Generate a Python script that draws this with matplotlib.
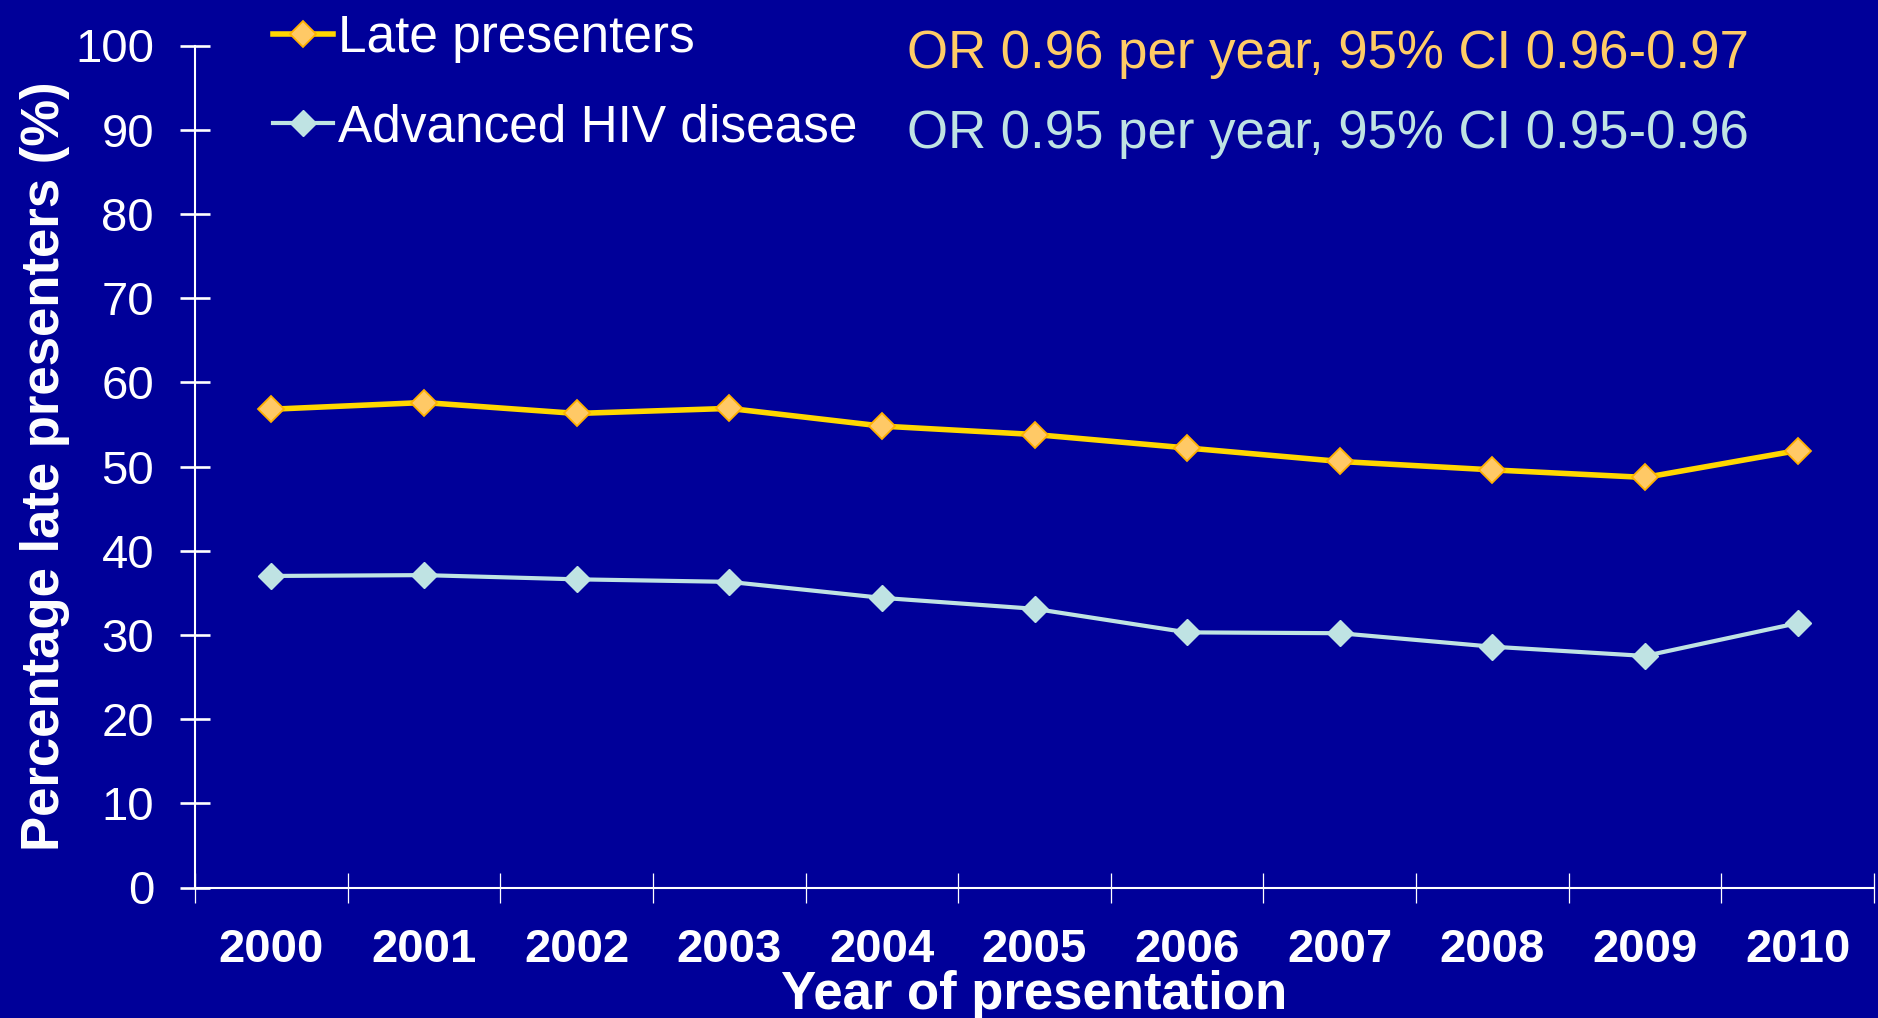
import matplotlib
matplotlib.use("Agg")
import matplotlib.pyplot as plt
import numpy as np

years = ["2000", "2001", "2002", "2003", "2004", "2005", "2006", "2007", "2008", "2009", "2010"]
late_presenters = [56.8, 57.6, 56.3, 56.9, 54.8, 53.8, 52.2, 50.6, 49.6, 48.7, 51.9]
advanced_hiv = [37.0, 37.1, 36.6, 36.3, 34.4, 33.1, 30.3, 30.2, 28.6, 27.5, 31.4]
series_labels = ["Late presenters", "Advanced HIV disease"]
or_texts = ["OR 0.96 per year, 95% CI 0.96-0.97", "OR 0.95 per year, 95% CI 0.95-0.96"]
y_ticks = [0, 10, 20, 30, 40, 50, 60, 70, 80, 90, 100]

BG = "#000099"
YEL_LINE = "#FFD700"
YEL_MARK = "#FFC966"
YEL_EDGE = "#FFB000"
CYAN = "#BFE3E3"
OR_YEL = "#FFCC66"

plt.rcParams["font.family"] = ["Liberation Sans", "DejaVu Sans"]

W, H = 1878, 1018
AX_L, AX_R, AX_B, AX_T = 195, 1874, 887.5, 45.5
fig = plt.figure(figsize=(W / 100, H / 100), dpi=100, facecolor=BG)
ax = fig.add_axes([AX_L / W, 1 - AX_B / H, (AX_R - AX_L) / W, (AX_B - AX_T) / H])
ax.set_facecolor(BG)

x = np.arange(len(years))
l1, = ax.plot(x, late_presenters, color=YEL_LINE, lw=4.0, marker="D", ms=13,
              mfc=YEL_MARK, mec=YEL_EDGE, mew=1.3, label=series_labels[0], zorder=3)
l2, = ax.plot(x, advanced_hiv, color=CYAN, lw=3.0, marker="D", ms=13,
              mfc=CYAN, mec=CYAN, mew=1.0, label=series_labels[1], zorder=3)

ax.set_xlim(-0.5, len(years) - 0.5)
ax.set_ylim(0, 100)

for s in ["top", "right"]:
    ax.spines[s].set_visible(False)
for s in ["left", "bottom"]:
    ax.spines[s].set_color("white")
    ax.spines[s].set_linewidth(1.5)

ax.set_yticks(y_ticks)
ax.set_yticklabels([str(v) for v in y_ticks])
ax.tick_params(axis="y", direction="inout", length=21, width=1.9, colors="white",
               labelsize=34, pad=19)

ax.set_xticks(np.arange(-0.5, len(years), 1.0))
ax.set_xticklabels([""] * (len(years) + 1))
ax.set_xticks(x, minor=True)
ax.set_xticklabels(years, minor=True, fontsize=34, fontweight="bold", color="white")
ax.tick_params(axis="x", which="major", direction="inout", length=21, width=0.9, colors="white")
ax.tick_params(axis="x", which="minor", length=0, pad=29, colors="white")

ax.set_xlabel("Year of presentation", fontsize=38, fontweight="bold", color="white")
ax.xaxis.label.set_va("baseline")
ax.xaxis.set_label_coords(0.5, (AX_B - 1009) / (AX_B - AX_T))
ax.set_ylabel("Percentage late presenters (%)", fontsize=38, fontweight="bold", color="white")
ax.yaxis.set_label_coords((70 - AX_L) / (AX_R - AX_L), 0.5)

leg = fig.legend(handles=[l1, l2], loc="upper left", bbox_to_anchor=(273 / W, 1 - 14 / H),
                 frameon=False, fontsize=37, handlelength=1.17, handletextpad=0.1,
                 borderpad=0, borderaxespad=0, labelspacing=0.78)
for t in leg.get_texts():
    t.set_color("white")

fig.text(907 / W, 1 - 68 / H, or_texts[0], color=OR_YEL, fontsize=38, va="baseline", ha="left")
fig.text(907 / W, 1 - 148 / H, or_texts[1], color=CYAN, fontsize=38, va="baseline", ha="left")

fig.savefig("out.png", dpi=100, facecolor=BG)
